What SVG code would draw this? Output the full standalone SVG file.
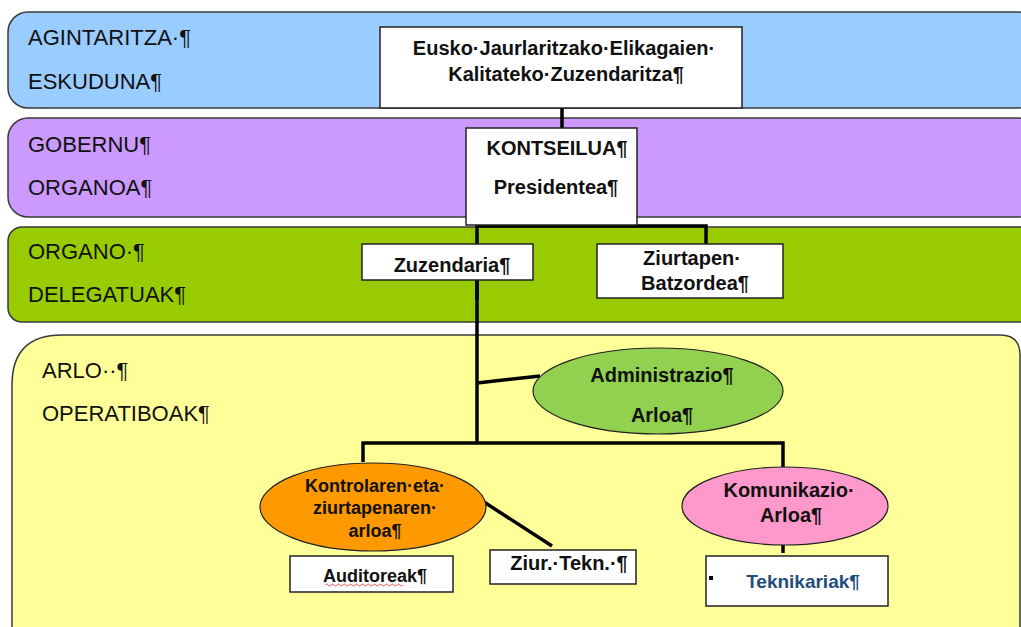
<svg xmlns="http://www.w3.org/2000/svg" width="1021" height="627" viewBox="0 0 1021 627">
<style>
.band{stroke:#3a3a3a;stroke-width:1.5}
.lbl{font-family:"Liberation Sans",Arial,sans-serif;font-size:22px;fill:#111}
.box{fill:#fff;stroke:#222;stroke-width:1.5}
.t{font-family:"Liberation Sans",Arial,sans-serif;font-size:20px;font-weight:bold;fill:#111;text-anchor:middle}
.s18{font-size:18px}
.ell{stroke:#222;stroke-width:1.2}
.con{stroke:#000;stroke-width:3.5;fill:none}
</style>
<rect width="1021" height="627" fill="#fff"/>
<g id="bands">
<rect class="band" x="8" y="12" width="1030" height="96" rx="20" fill="#99ccff"/>
<rect class="band" x="8" y="118" width="1030" height="99" rx="20" fill="#cc99ff"/>
<rect class="band" x="8" y="227" width="1030" height="95" rx="14" fill="#99cc00"/>
<path class="band" d="M12 700 V385 Q12 335 62 335 H1000 Q1020 335 1020 355 V700 Z" fill="#ffff99"/>
<text class="lbl" x="28" y="45">AGINTARITZA·¶</text>
<text class="lbl" x="28" y="89">ESKUDUNA¶</text>
<text x="42" y="116" style="font-family:'Liberation Sans',sans-serif;font-size:10px;fill:#444">¨</text>
<text class="lbl" x="28" y="152">GOBERNU¶</text>
<text class="lbl" x="28" y="195">ORGANOA¶</text>
<text class="lbl" x="28" y="259">ORGANO·¶</text>
<text class="lbl" x="28" y="302">DELEGATUAK¶</text>
<text class="lbl" x="42" y="378">ARLO··¶</text>
<text class="lbl" x="42" y="421">OPERATIBOAK¶</text>
</g>
<g id="connectors">
<line class="con" x1="562" y1="83" x2="562" y2="136"/>
<line class="con" x1="561" y1="197" x2="562" y2="226"/>
<polyline class="con" points="477,300 477,226 706,226 706,244"/>
<line class="con" x1="477" y1="280" x2="477" y2="443"/>
<line class="con" x1="477" y1="383" x2="540" y2="376"/>
<polyline class="con" points="363,462 363,443 783,443 783,467"/>
<line class="con" x1="484" y1="502" x2="552" y2="546"/>
<line class="con" x1="783" y1="545" x2="783" y2="553"/>
</g>
<g id="n-dir">
<rect class="box" x="380" y="27" width="362" height="81"/>
<text class="t" x="564" y="55">Eusko·Jaurlaritzako·Elikagaien·</text>
<text class="t" x="566" y="81">Kalitateko·Zuzendaritza¶</text>
</g>
<g id="n-kontseilua">
<rect class="box" x="466" y="128" width="171" height="97"/>
<text class="t" x="557" y="155">KONTSEILUA¶</text>
<text class="t" x="556" y="194">Presidentea¶</text>
</g>
<g id="n-zuzendaria">
<rect class="box" x="362" y="244" width="171" height="36"/>
<text class="t" x="452" y="272">Zuzendaria¶</text>
</g>
<g id="n-ziurtapen">
<rect class="box" x="597" y="244" width="186" height="54"/>
<text class="t" x="692" y="265">Ziurtapen·</text>
<text class="t" x="695" y="290">Batzordea¶</text>
</g>
<g id="n-admin">
<ellipse class="ell" cx="658" cy="391" rx="125" ry="43" fill="#92d050"/>
<text class="t" x="662" y="382">Administrazio¶</text>
<text class="t" x="662" y="422">Arloa¶</text>
</g>
<g id="n-kontrol">
<ellipse class="ell" cx="373" cy="507" rx="113" ry="44" fill="#ff9900"/>
<text class="t s18" x="375" y="492">Kontrolaren·eta·</text>
<text class="t s18" x="375" y="514">ziurtapenaren·</text>
<text class="t s18" x="375" y="537">arloa¶</text>
</g>
<g id="n-komunikazio">
<ellipse class="ell" cx="785" cy="506" rx="103" ry="39" fill="#ff99cc"/>
<text class="t" x="789" y="497">Komunikazio·</text>
<text class="t" x="791" y="522">Arloa¶</text>
</g>
<g id="n-auditoreak">
<rect class="box" x="290" y="556" width="163" height="36"/>
<text class="t s18" x="375" y="582">Auditoreak¶</text>
<path d="M325 585 q1.5 -2 3 0 t3 0 t3 0 t3 0 t3 0 t3 0 t3 0 t3 0 t3 0 t3 0 t3 0 t3 0 t3 0 t3 0 t3 0 t3 0 t3 0 t3 0 t3 0 t3 0 t3 0 t3 0 t3 0 t3 0 t3 0 t3 0" fill="none" stroke="#e03030" stroke-width="0.8"/>
</g>
<g id="n-ziurtekn">
<rect class="box" x="490" y="550" width="146" height="34"/>
<text class="t" x="569" y="570">Ziur.·Tekn.·¶</text>
</g>
<g id="n-teknikariak">
<rect class="box" x="706" y="556" width="182" height="50"/>
<rect x="709" y="576" width="4" height="4" fill="#000"/>
<text class="t" x="803" y="588" style="fill:#1f4e79;font-size:19px">Teknikariak¶</text>
</g>
</svg>
